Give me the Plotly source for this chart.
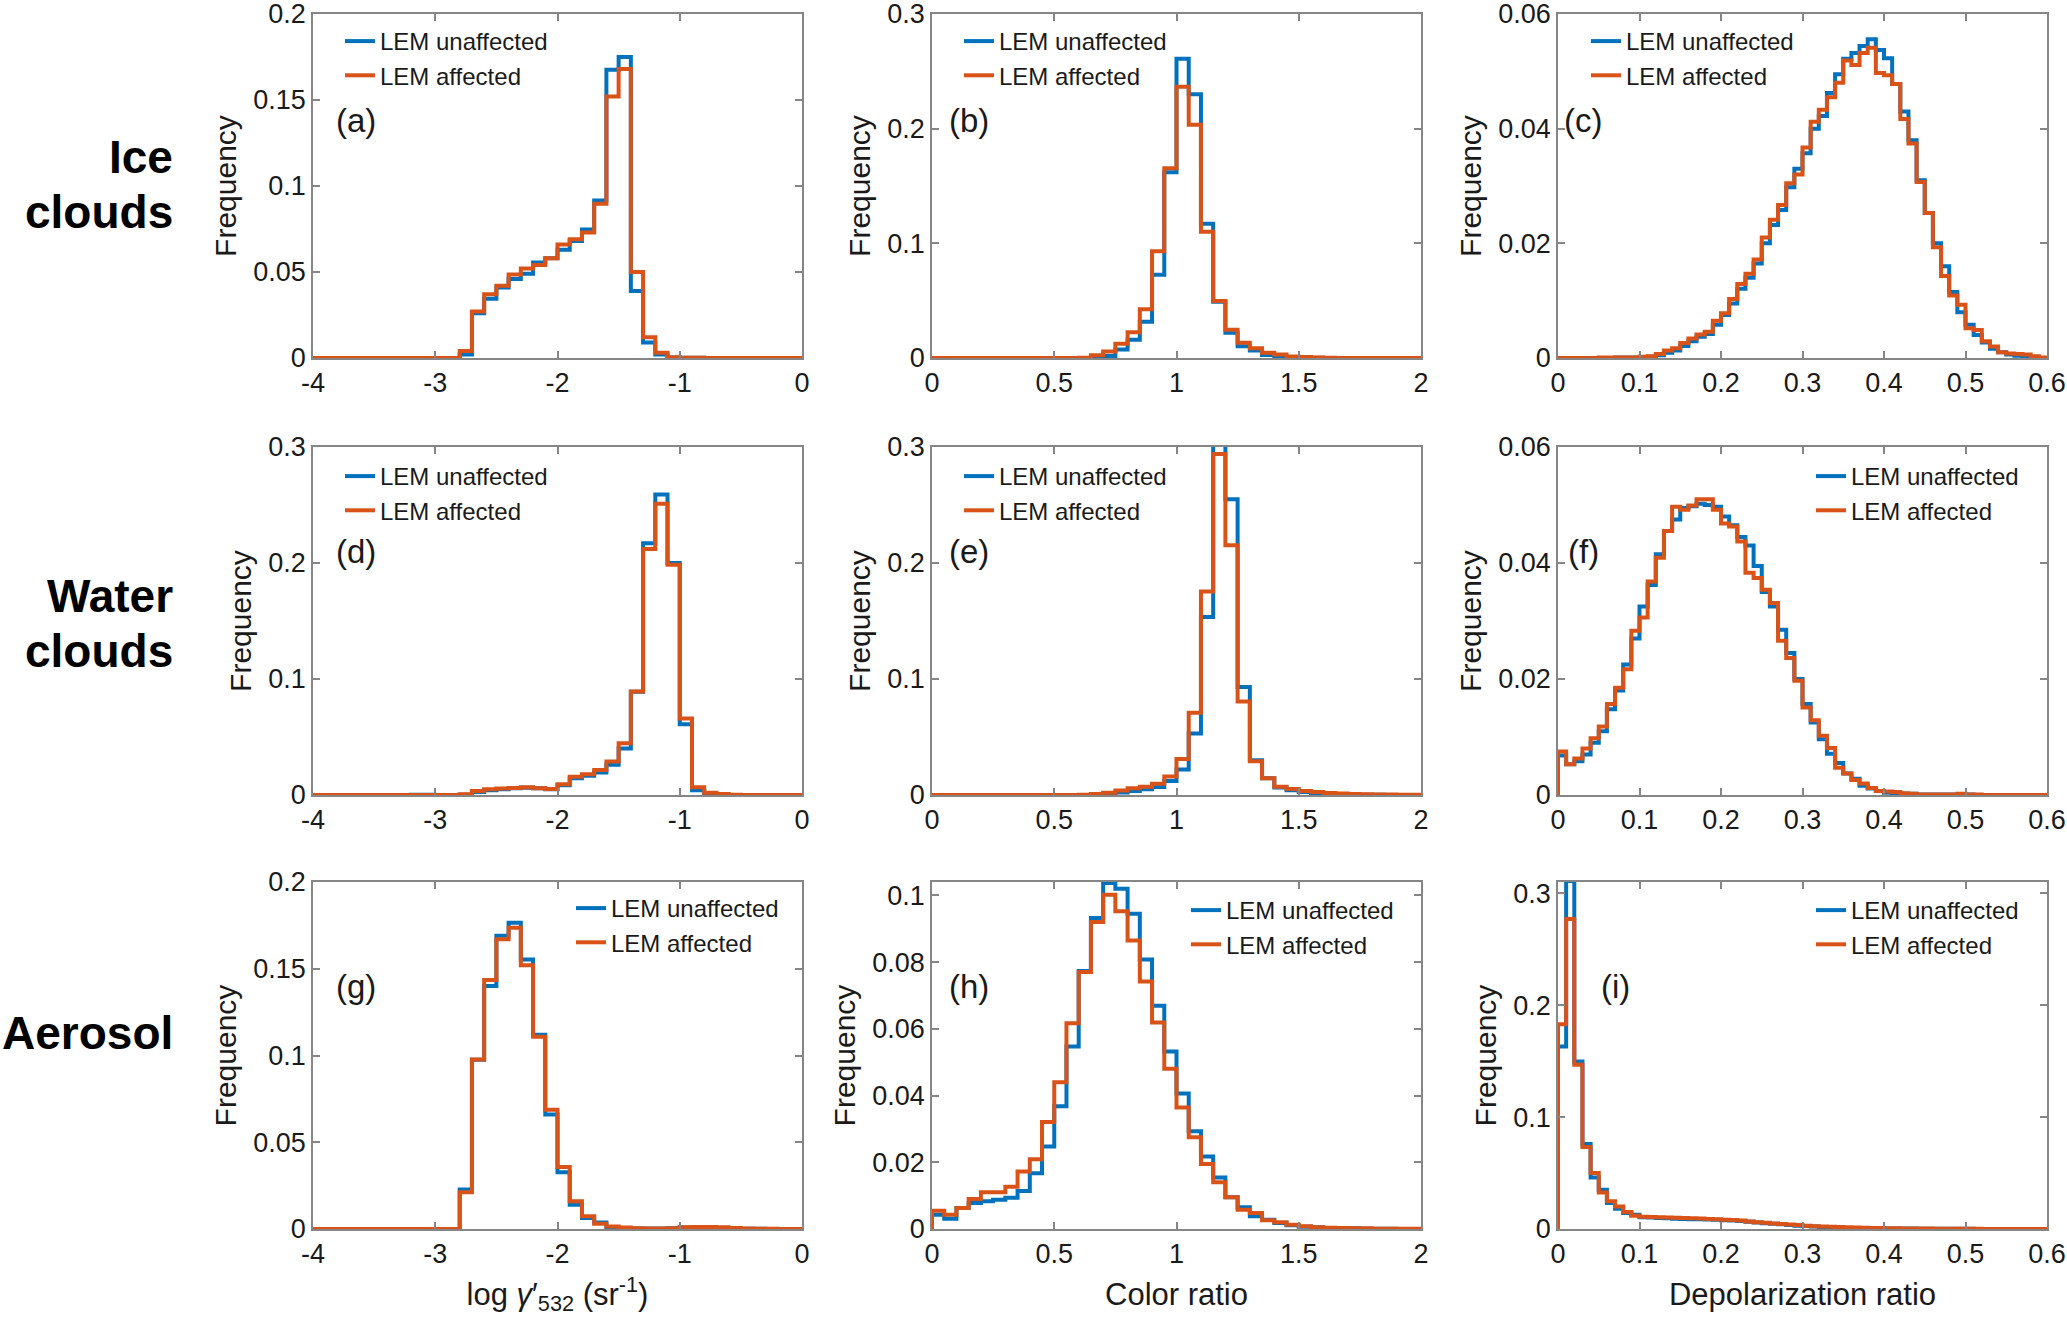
import numpy as np
import plotly.graph_objects as go

W, H = 2067, 1333

# ---------------- data ----------------
edges_log = np.linspace(-4, 0, 41)      # log gamma'532 bins
edges_cr = np.linspace(0, 2, 41)        # colour-ratio bins
edges_dr = np.linspace(0, 0.6, 61)      # depolarization-ratio bins

series_names = ["LEM unaffected", "LEM affected"]
row_names = [["Ice", "clouds"], ["Water", "clouds"], ["Aerosol"]]
panel_tags = ["(a)", "(b)", "(c)", "(d)", "(e)", "(f)", "(g)", "(h)", "(i)"]
x_titles = ["log <i>γ</i>′<sub>532</sub> (sr<sup>-1</sup>)", "Color ratio", "Depolarization ratio"]

log_ticks = [-4, -3, -2, -1, 0]
log_ticktext = ["-4", "-3", "-2", "-1", "0"]
cr_ticks = [0, 0.5, 1, 1.5, 2]
cr_ticktext = ["0", "0.5", "1", "1.5", "2"]
dr_ticks = [0, 0.1, 0.2, 0.3, 0.4, 0.5, 0.6]
dr_ticktext = ["0", "0.1", "0.2", "0.3", "0.4", "0.5", "0.6"]

a_unaff = [0, 0, 0, 0, 0, 0, 0, 0, 0, 0,
           0, 0, 0.002, 0.026, 0.0345, 0.041, 0.046, 0.049, 0.0555, 0.058,
           0.063, 0.068, 0.0747, 0.0916, 0.1676, 0.175, 0.039, 0.009, 0.002, 0.0003,
           0.0002, 0.0001, 0, 0, 0, 0, 0, 0, 0, 0]
a_aff = [0, 0, 0, 0, 0, 0, 0, 0, 0, 0,
         0, 0, 0.004, 0.027, 0.037, 0.042, 0.0485, 0.052, 0.054, 0.058,
         0.066, 0.069, 0.073, 0.0897, 0.152, 0.168, 0.050, 0.012, 0.003, 0.0005,
         0.0001, 0.0001, 0, 0, 0, 0, 0, 0, 0, 0]

b_unaff = [0, 0, 0, 0, 0, 0, 0, 0, 0, 0,
           0, 0, 0, 0.0005, 0.0017, 0.0075, 0.016, 0.0316, 0.0727, 0.162,
           0.261, 0.230, 0.117, 0.049, 0.022, 0.0103, 0.0066, 0.0026, 0.0015, 0.0008,
           0.0004, 0.0002, 0.0001, 0, 0, 0, 0, 0, 0, 0]
b_aff = [0, 0, 0, 0, 0, 0, 0, 0, 0, 0,
         0, 0, 0.0003, 0.0023, 0.0057, 0.0124, 0.0224, 0.0425, 0.093, 0.1655,
         0.2365, 0.2034, 0.110, 0.0497, 0.0247, 0.0132, 0.0086, 0.0046, 0.003, 0.0014,
         0.0008, 0.0004, 0.0002, 0.0001, 0, 0, 0, 0, 0, 0]

c_unaff = [0, 0, 0, 0, 0, 0, 0, 0.0001, 0.0001, 0.0001,
           0.0001, 0.0002, 0.0005, 0.0009, 0.0013, 0.0021, 0.0029, 0.0037, 0.0042, 0.0058,
           0.0075, 0.0095, 0.0121, 0.014, 0.0165, 0.020, 0.0232, 0.0258, 0.0298, 0.033,
           0.0357, 0.040, 0.0422, 0.0462, 0.0495, 0.0522, 0.0532, 0.0544, 0.0556, 0.0537,
           0.0523, 0.0478, 0.043, 0.038, 0.031, 0.0253, 0.020, 0.016, 0.0115, 0.008,
           0.0058, 0.004, 0.0027, 0.0016, 0.001, 0.0006, 0.0004, 0.0002, 0.0001, 0]
c_aff = [0, 0, 0, 0, 0, 0.0001, 0.0001, 0.0001, 0.0001, 0.0001,
         0.0002, 0.0003, 0.0007, 0.0013, 0.0017, 0.0026, 0.0034, 0.0041, 0.0046, 0.0065,
         0.0078, 0.0103, 0.0129, 0.0147, 0.0172, 0.021, 0.0241, 0.0267, 0.0305, 0.032,
         0.0367, 0.0412, 0.0433, 0.0455, 0.048, 0.0519, 0.0511, 0.0532, 0.0541, 0.0497,
         0.0493, 0.0478, 0.0417, 0.0374, 0.0307, 0.0253, 0.0193, 0.0143, 0.0109, 0.0093,
         0.0052, 0.0049, 0.0029, 0.002, 0.001, 0.0008, 0.0007, 0.0006, 0.0003, 0.0001]

d_unaff = [0, 0, 0, 0, 0, 0, 0, 0, 0.0002, 0.0002,
           0, 0, 0.0003, 0.0025, 0.004, 0.005, 0.0058, 0.0063, 0.0058, 0.005,
           0.0085, 0.0145, 0.0165, 0.0195, 0.026, 0.040, 0.089, 0.217, 0.259, 0.200,
           0.061, 0.004, 0.001, 0.0003, 0, 0, 0, 0, 0, 0]
d_aff = [0, 0, 0, 0, 0, 0, 0, 0, 0, 0,
         0, 0, 0.0006, 0.0035, 0.005, 0.0055, 0.006, 0.0066, 0.0058, 0.0052,
         0.0092, 0.0158, 0.0178, 0.0216, 0.0288, 0.0446, 0.0892, 0.212, 0.251, 0.1985,
         0.066, 0.0066, 0.002, 0.0008, 0.0003, 0, 0, 0, 0, 0]

e_unaff = [0, 0, 0, 0, 0, 0, 0, 0, 0, 0,
           0, 0, 0, 0.0003, 0.0008, 0.0022, 0.0035, 0.005, 0.007, 0.012,
           0.022, 0.053, 0.1535, 0.303, 0.255, 0.093, 0.030, 0.0145, 0.0065, 0.004,
           0.0025, 0.0015, 0.001, 0.0007, 0.0005, 0.0003, 0.0002, 0.0001, 0, 0]
e_aff = [0, 0, 0, 0, 0, 0, 0, 0, 0, 0,
         0, 0, 0.0003, 0.0008, 0.002, 0.0038, 0.0058, 0.0072, 0.0096, 0.016,
         0.031, 0.071, 0.1754, 0.294, 0.2154, 0.0806, 0.029, 0.0145, 0.0072, 0.0052,
         0.0035, 0.0026, 0.0017, 0.0012, 0.0009, 0.0006, 0.0005, 0.0004, 0.0003, 0.0003]

f_unaff = [0.0068, 0.0053, 0.0058, 0.007, 0.009, 0.011, 0.0148, 0.018, 0.0225, 0.027,
           0.0325, 0.0362, 0.0415, 0.0455, 0.0475, 0.0495, 0.0498, 0.0502, 0.050, 0.0497,
           0.048, 0.0465, 0.0445, 0.043, 0.0395, 0.035, 0.0325, 0.0285, 0.0245, 0.020,
           0.0157, 0.0125, 0.0096, 0.0071, 0.0055, 0.0037, 0.0028, 0.0016, 0.0011, 0.0007,
           0.0004, 0.0003, 0.0002, 0.0002, 0.0001, 0.0001, 0.0001, 0.0001, 0.0001, 0.0001,
           0.0001, 0, 0, 0, 0, 0, 0, 0, 0, 0]
f_aff = [0.0075, 0.0053, 0.0063, 0.008, 0.0098, 0.0118, 0.0157, 0.0185, 0.0217, 0.0283,
         0.0306, 0.0368, 0.0409, 0.0455, 0.0497, 0.0492, 0.0499, 0.051, 0.051, 0.0492,
         0.0468, 0.0463, 0.0437, 0.0383, 0.0374, 0.0354, 0.0331, 0.0266, 0.0236, 0.0197,
         0.0151, 0.0129, 0.0102, 0.0081, 0.0047, 0.0037, 0.0026, 0.002, 0.0012, 0.0007,
         0.0006, 0.0005, 0.0003, 0.0002, 0.0001, 0.0001, 0.0001, 0.0001, 0.0001, 0.0002,
         0.0001, 0.0001, 0, 0, 0, 0, 0, 0, 0, 0]

g_unaff = [0, 0, 0, 0, 0, 0, 0, 0, 0, 0,
           0, 0, 0.0227, 0.0975, 0.140, 0.169, 0.1765, 0.1554, 0.112, 0.066,
           0.0327, 0.014, 0.0063, 0.0038, 0.0006, 0.0004, 0.0003, 0.0003, 0.0003, 0.0004,
           0.0008, 0.0009, 0.0008, 0.0006, 0.0003, 0.0002, 0.0001, 0, 0, 0]
g_aff = [0, 0, 0, 0, 0, 0, 0, 0, 0, 0,
         0, 0, 0.0212, 0.0977, 0.1435, 0.167, 0.1737, 0.152, 0.1108, 0.0688,
         0.0358, 0.016, 0.0073, 0.003, 0.0015, 0.0008, 0.0005, 0.0003, 0.0003, 0.0005,
         0.001, 0.0012, 0.0012, 0.001, 0.0006, 0.0003, 0.0001, 0.0001, 0, 0]

h_unaff = [0.0043, 0.0031, 0.0063, 0.0078, 0.0083, 0.0088, 0.0094, 0.0114, 0.0167, 0.0247,
           0.0368, 0.0547, 0.0773, 0.0932, 0.1037, 0.102, 0.0945, 0.0808, 0.0669, 0.0532,
           0.0406, 0.0293, 0.0217, 0.0154, 0.0095, 0.0065, 0.0038, 0.0028, 0.0018, 0.0011,
           0.0007, 0.0005, 0.0003, 0.0002, 0.0002, 0.0001, 0.0001, 0.0001, 0, 0]
h_aff = [0.0055, 0.0043, 0.0063, 0.009, 0.011, 0.011, 0.0127, 0.0172, 0.0209, 0.0321,
         0.044, 0.0617, 0.077, 0.092, 0.1002, 0.0952, 0.0865, 0.0742, 0.0619, 0.048,
         0.0364, 0.0275, 0.0195, 0.014, 0.0095, 0.0058, 0.0048, 0.0026, 0.002, 0.0013,
         0.0008, 0.0005, 0.0004, 0.0003, 0.0002, 0.0002, 0.0001, 0.0001, 0.0001, 0.0001]

i_unaff = [0.163, 0.311, 0.1497, 0.0759, 0.0461, 0.0351, 0.0232, 0.0182, 0.0143, 0.0128,
           0.0105, 0.0102, 0.0098, 0.0095, 0.0092, 0.009, 0.0088, 0.0087, 0.0085, 0.0082,
           0.0079, 0.0075, 0.0071, 0.0065, 0.0058, 0.0052, 0.0047, 0.0042, 0.0036, 0.003,
           0.0026, 0.0022, 0.0018, 0.0015, 0.0012, 0.001, 0.0009, 0.0008, 0.0007, 0.0006,
           0.0005, 0.0005, 0.0004, 0.0004, 0.0003, 0.0003, 0.0003, 0.0002, 0.0002, 0.0002,
           0.0002, 0.0001, 0.0001, 0.0001, 0.0001, 0.0001, 0.0001, 0, 0, 0]
i_aff = [0.183, 0.277, 0.1467, 0.0732, 0.050, 0.0327, 0.0247, 0.0202, 0.0152, 0.0119,
         0.011, 0.0107, 0.0104, 0.0102, 0.010, 0.0098, 0.0095, 0.0093, 0.009, 0.0087,
         0.0083, 0.008, 0.0075, 0.0068, 0.006, 0.0055, 0.005, 0.0045, 0.004, 0.0035,
         0.003, 0.0025, 0.0022, 0.002, 0.0017, 0.0015, 0.0013, 0.0011, 0.001, 0.0008,
         0.0007, 0.0006, 0.0005, 0.0005, 0.0004, 0.0004, 0.0003, 0.0003, 0.0003, 0.0002,
         0.0002, 0.0002, 0.0001, 0.0001, 0.0001, 0.0001, 0.0001, 0.0001, 0, 0]

y_tops = [0.2, 0.3, 0.06, 0.3, 0.3, 0.06, 0.2, 0.104, 0.31]
y_steps = [0.05, 0.1, 0.02, 0.1, 0.1, 0.02, 0.05, 0.02, 0.1]

# ---------------- layout geometry (pixels) ----------------
col_px = [(313, 802), (932, 1421), (1558, 2047)]
row_px = [(14, 358), (447, 795), (882, 1229)]

FONT = "Liberation Sans, Arial, Helvetica, sans-serif"
BLUE = "#0072BD"
ORANGE = "#D95319"
AXC = "#868686"

panels = [
    (edges_log, a_unaff, a_aff), (edges_cr, b_unaff, b_aff), (edges_dr, c_unaff, c_aff),
    (edges_log, d_unaff, d_aff), (edges_cr, e_unaff, e_aff), (edges_dr, f_unaff, f_aff),
    (edges_log, g_unaff, g_aff), (edges_cr, h_unaff, h_aff), (edges_dr, i_unaff, i_aff),
]
xticks = [(log_ticks, log_ticktext), (cr_ticks, cr_ticktext), (dr_ticks, dr_ticktext)]
xranges = [[-4, 0], [0, 2], [0, 0.6]]

# legend text start (x px), first-item centre (y px)
legend_pos = [(381, 43), (1000, 43), (1627, 43),
              (381, 478), (1000, 478), (1852, 478),
              (612, 910), (1227, 912), (1852, 912)]
tag_pos = [(356, 121), (969, 121), (1583, 121),
           (356, 551), (969, 551), (1583, 551),
           (356, 986), (969, 986), (1615, 986)]


def stairs(edges, vals):
    x = [edges[0]] + list(edges)
    y = [0] + list(vals) + [0]
    return x, y


def px2x(p):
    return p / W


def px2y(p):
    return 1 - p / H


fig = go.Figure()
layout = dict(
    width=W, height=H,
    margin=dict(l=0, r=0, t=0, b=0, autoexpand=False),
    paper_bgcolor="white", plot_bgcolor="white",
    font=dict(family=FONT, color="#1a1a1a"),
    showlegend=True,
)
annotations = []

for k, (edges, unaff, aff) in enumerate(panels):
    r, c = divmod(k, 3)
    sfx = "" if k == 0 else str(k + 1)
    xa, ya = "x" + sfx, "y" + sfx
    lg = "legend" + sfx
    for vals, name, col in ((unaff, series_names[0], BLUE), (aff, series_names[1], ORANGE)):
        x, y = stairs(edges, vals)
        fig.add_trace(go.Scatter(
            x=x, y=y, mode="lines", name=name, line=dict(color=col, width=4, shape="hv"),
            xaxis=xa, yaxis=ya, legend=lg, hoverinfo="skip"))
    tv, tt = xticks[c]
    xax = dict(
        domain=[px2x(col_px[c][0]), px2x(col_px[c][1])], anchor=ya,
        range=xranges[c], tickvals=tv, ticktext=tt, automargin=False,
        ticklabeloverflow="allow",
        showline=True, mirror="ticks", linecolor=AXC, linewidth=1.5,
        ticks="inside", ticklen=7, tickwidth=1.5, tickcolor=AXC,
        showgrid=False, zeroline=False,
        tickfont=dict(size=27, family=FONT, color="#1a1a1a"),
    )
    if r == 2:
        xax["title"] = dict(text=x_titles[c], font=dict(size=31, family=FONT), standoff=15)
    layout["xaxis" + sfx] = xax
    layout["yaxis" + sfx] = dict(
        domain=[px2y(row_px[r][1]), px2y(row_px[r][0])], anchor=xa,
        range=[0, y_tops[k]], dtick=y_steps[k], tick0=0, automargin=False,
        ticklabeloverflow="allow",
        showline=True, mirror="ticks", linecolor=AXC, linewidth=1.5,
        ticks="inside", ticklen=7, tickwidth=1.5, tickcolor=AXC,
        showgrid=False, zeroline=False,
        tickfont=dict(size=27, family=FONT, color="#1a1a1a"),
        title=dict(text="Frequency", font=dict(size=30, family=FONT), standoff=8),
    )
    lx, ly = legend_pos[k]
    layout[lg] = dict(
        x=px2x(lx - 41), y=px2y(ly - 24), xanchor="left", yanchor="top",
        xref="paper", yref="paper",
        bgcolor="rgba(0,0,0,0)", borderwidth=0,
        font=dict(size=24, family=FONT, color="#1a1a1a"),
        tracegroupgap=0, itemclick=False,
    )
    tx, ty = tag_pos[k]
    annotations.append(dict(
        text=panel_tags[k], x=px2x(tx), y=px2y(ty), xref="paper", yref="paper",
        xanchor="center", yanchor="middle", showarrow=False,
        font=dict(size=33, family=FONT, color="#1a1a1a")))

# row labels
row_label_pos = [[157, 212], [596, 651], [1033]]
for r, lines in enumerate(row_names):
    for line, py in zip(lines, row_label_pos[r]):
        annotations.append(dict(
            text="<b>%s</b>" % line, x=px2x(175), y=px2y(py), xref="paper", yref="paper",
            xanchor="right", yanchor="middle", showarrow=False,
            font=dict(size=46, family=FONT, color="black")))

layout["annotations"] = annotations
fig.update_layout(**layout)
fig.write_html("out.html", config={"displayModeBar": False},
               post_script="document.body.style.margin='0px';")
